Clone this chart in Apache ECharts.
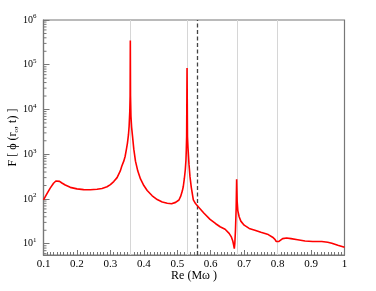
<!DOCTYPE html>
<html>
<head>
<meta charset="utf-8">
<script src="https://cdn.jsdelivr.net/npm/echarts@6/dist/echarts.min.js"></script>
<style>html,body{margin:0;padding:0;background:#fff}#c{width:376px;height:291px}</style>
</head>
<body>
<div id="c"></div>
<script>
// Re(Mω) values
const xs = [0.100,0.110,0.120,0.130,0.137,0.142,0.148,0.155,0.165,0.180,0.200,0.220,0.240,0.260,0.275,0.290,0.300,0.310,0.320,0.330,0.334,0.340,0.344,0.348,0.351,0.354,0.356,0.358,0.359,0.3596,0.3602,0.3615,0.3635,0.366,0.370,0.375,0.382,0.390,0.400,0.410,0.425,0.440,0.455,0.470,0.483,0.495,0.505,0.510,0.515,0.518,0.521,0.524,0.526,0.527,0.528,0.5292,0.5305,0.532,0.533,0.535,0.538,0.542,0.548,0.555,0.566,0.580,0.598,0.615,0.628,0.643,0.655,0.662,0.666,0.669,0.6705,0.672,0.674,0.676,0.6775,0.679,0.681,0.685,0.690,0.700,0.715,0.732,0.750,0.772,0.785,0.792,0.796,0.799,0.803,0.808,0.815,0.827,0.840,0.860,0.882,0.905,0.932,0.950,0.962,0.980,1.000];
// F[φ(r_o,t)] values
const ys = [95,130,175,225,252,258,248,228,205,182,168,162,161,165,172,188,210,245,300,430,540,700,890,1300,1780,2700,4200,9000,20000,350000,20000,7000,4000,2600,1300,700,420,280,200,155,118,97,86,80,78,84,95,114,150,190,280,450,750,1260,2500,85000,2500,1400,1070,600,316,180,96,78,63,48,35,28,24,21,17,14,11.5,9,7.8,10,20,60,275,90,55,40,32,26,22,20,18,16,14,12.5,11.2,10.4,11.2,12.3,13.0,13.4,13.0,12.3,11.5,11.2,11.2,10.8,10.2,9.2,8.3];
const greyLinesX = [0.36, 0.53, 0.678, 0.80];
const dashedLineX = [0.565];
const yMinorTicks = [6,7,8,9,20,30,40,50,60,70,80,90,200,300,400,500,600,700,800,900,2000,3000,4000,5000,6000,7000,8000,9000,20000,30000,40000,50000,60000,70000,80000,90000,200000,300000,400000,500000,600000,700000,800000,900000];
const xTickLabels = ['0.1','0.2','0.3','0.4','0.5','0.6','0.7','0.8','0.9','1'];

const FONT = 'Liberation Serif';
const AX = '#777';
const chart = echarts.init(document.getElementById('c'), null, {renderer: 'canvas'});
const lineData = xs.map((x, i) => [x, ys[i]]);
chart.setOption({
  animation: false,
  grid: {left: 43.5, right: 31.5, top: 20, bottom: 36, containLabel: false, outerBoundsMode: 'none',
    show: true, borderColor: AX, borderWidth: 1.2, backgroundColor: 'transparent'},
  xAxis: {
    type: 'value', min: 0.1, max: 1, interval: 0.1,
    name: 'Re (Mω )', nameLocation: 'middle', nameGap: 15, nameMoveOverlap: false,
    nameTextStyle: {fontFamily: FONT, fontSize: 12, color: '#000'},
    axisLine: {lineStyle: {color: AX, width: 1.2}},
    axisTick: {inside: true, length: 5, lineStyle: {color: AX}},
    minorTick: {show: true, splitNumber: 10, length: 3, lineStyle: {color: AX}},
    splitLine: {show: false},
    axisLabel: {margin: 4, fontFamily: FONT, fontSize: 11, color: '#000',
      formatter: v => xTickLabels[Math.round(v * 10) - 1] || ''}
  },
  yAxis: {
    type: 'log', logBase: 10, min: 5.6, max: 1e6,
    name: 'F [ ϕ (r{sub|o}, t) ]', nameLocation: 'middle', nameGap: 24, nameRotate: 90, nameMoveOverlap: false,
    nameTextStyle: {fontFamily: FONT, fontSize: 12, color: '#000',
      rich: {sub: {fontFamily: FONT, fontSize: 7, color: '#000', padding: [6, 0, 0, 0]}}},
    axisLine: {show: true, lineStyle: {color: AX, width: 1.2}},
    axisTick: {inside: true, length: 6, lineStyle: {color: AX}},
    splitLine: {show: false},
    minorSplitLine: {show: false},
    axisLabel: {margin: 7, fontFamily: FONT, fontSize: 10, color: '#000',
      formatter: v => {
        const e = Math.log10(v);
        if (Math.abs(e - Math.round(e)) > 1e-6) return '';
        return '{b|10}{s|' + Math.round(e) + '}';
      },
      rich: {b: {fontFamily: FONT, fontSize: 10, color: '#000'},
             s: {fontFamily: FONT, fontSize: 7, color: '#000', padding: [0, 0, 7, 0]}}}
  },
  series: [
    {
      type: 'line', data: [], z: 1, silent: true,
      markLine: {silent: true, symbol: 'none', label: {show: false},
        data: greyLinesX.map(x => ({xAxis: x, lineStyle: {color: '#d6d6d6', width: 1, type: 'solid'}}))
          .concat(dashedLineX.map(x => ({xAxis: x, lineStyle: {color: '#444', width: 1.3, type: [4, 2.5]}})))}
    },
    {
      type: 'custom', z: 3, silent: true,
      data: yMinorTicks.map(v => [0.1, v]),
      renderItem: (params, api) => {
        const p = api.coord([api.value(0), api.value(1)]);
        return {type: 'line', shape: {x1: p[0], y1: p[1], x2: p[0] + 3, y2: p[1]}, style: {stroke: AX, lineWidth: 1}};
      }
    },
    {
      type: 'line', data: lineData, z: 5, showSymbol: false, symbol: 'none',
      lineStyle: {color: '#ff0000', width: 1.6}, silent: true
    }
  ]
});
</script>
</body>
</html>
